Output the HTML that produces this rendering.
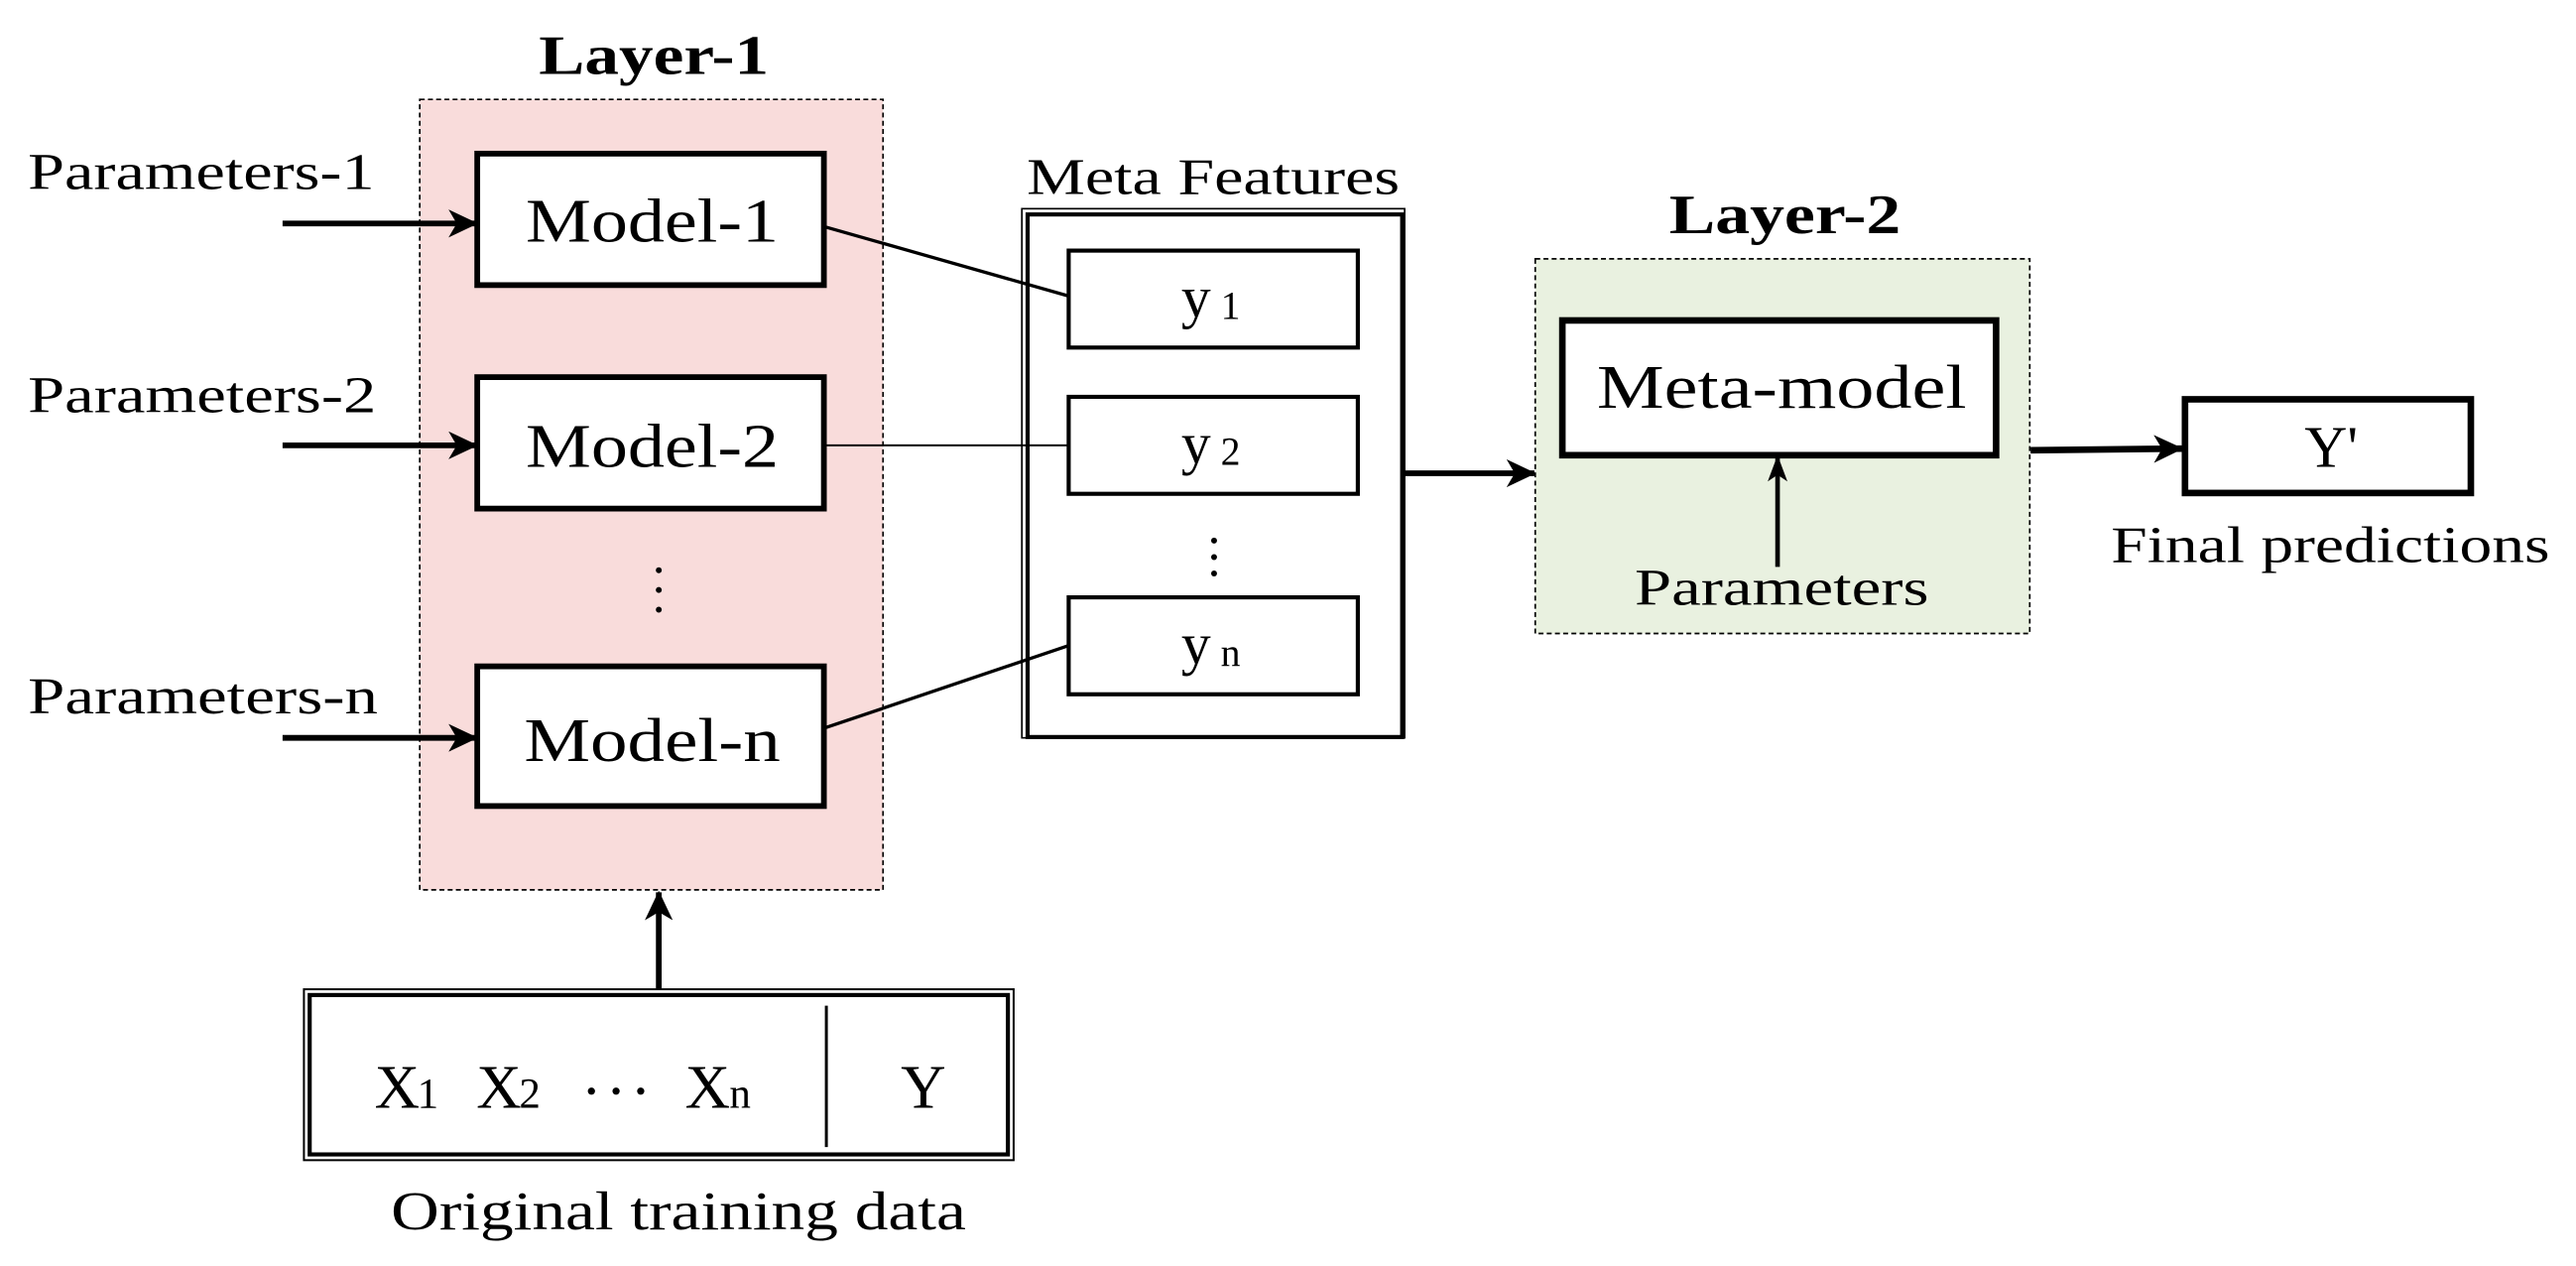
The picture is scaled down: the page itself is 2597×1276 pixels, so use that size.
<!DOCTYPE html>
<html><head><meta charset="utf-8"><style>
html,body{margin:0;padding:0;background:#fff;}
svg{display:block;}
text{font-family:"Liberation Serif",serif;fill:#000;}
</style></head><body>
<svg width="2597" height="1276" viewBox="0 0 1568 770.4" preserveAspectRatio="none" xmlns="http://www.w3.org/2000/svg">
<defs>
<marker id="ah" markerWidth="16" markerHeight="12" refX="15" refY="6" orient="auto" markerUnits="userSpaceOnUse">
<path d="M0,0 L16,6 L0,12 L4,6 Z" fill="#000"/>
</marker>
<marker id="ah2" markerWidth="18" markerHeight="17" refX="17" refY="8.5" orient="auto" markerUnits="userSpaceOnUse">
<path d="M0,0 L18,8.5 L0,17 L5,8.5 Z" fill="#000"/>
</marker>
</defs>
<!-- Layer 1 -->
<text x="328" y="45" font-size="34" font-weight="bold" textLength="140" lengthAdjust="spacingAndGlyphs">Layer-1</text>
<rect x="255.5" y="60.5" width="282" height="481" fill="#f9dcdb" stroke="#000" stroke-width="1" stroke-dasharray="3,2"/>
<rect x="290.5" y="93.5" width="211" height="80" fill="#fff" stroke="#000" stroke-width="3.5"/>
<rect x="290.5" y="229.5" width="211" height="80" fill="#fff" stroke="#000" stroke-width="3.5"/>
<rect x="290.5" y="405.5" width="211" height="85" fill="#fff" stroke="#000" stroke-width="3.5"/>
<text x="320" y="147" font-size="38" textLength="154" lengthAdjust="spacingAndGlyphs">Model-1</text>
<text x="320" y="284" font-size="38" textLength="154" lengthAdjust="spacingAndGlyphs">Model-2</text>
<text x="319" y="463" font-size="38" textLength="156" lengthAdjust="spacingAndGlyphs">Model-n</text>
<circle cx="401" cy="347" r="1.8"/><circle cx="401" cy="359" r="1.8"/><circle cx="401" cy="371" r="1.8"/>
<text x="17" y="115" font-size="31" textLength="211" lengthAdjust="spacingAndGlyphs">Parameters-1</text>
<text x="17" y="251" font-size="31" textLength="212" lengthAdjust="spacingAndGlyphs">Parameters-2</text>
<text x="17" y="434" font-size="31" textLength="213" lengthAdjust="spacingAndGlyphs">Parameters-n</text>
<line x1="172" y1="136" x2="290" y2="136" stroke="#000" stroke-width="3.5" marker-end="url(#ah2)"/>
<line x1="172" y1="271" x2="290" y2="271" stroke="#000" stroke-width="3.5" marker-end="url(#ah2)"/>
<line x1="172" y1="449" x2="290" y2="449" stroke="#000" stroke-width="3.5" marker-end="url(#ah2)"/>
<!-- Meta features -->
<text x="625" y="118" font-size="31" textLength="227" lengthAdjust="spacingAndGlyphs">Meta Features</text>
<rect x="622" y="127" width="233" height="322" fill="#fff" stroke="#000" stroke-width="1"/>
<rect x="625.5" y="130.5" width="228" height="318" fill="none" stroke="#000" stroke-width="2.5"/>
<rect x="650.5" y="152.5" width="176" height="59" fill="#fff" stroke="#000" stroke-width="2.5"/>
<rect x="650.5" y="241.5" width="176" height="59" fill="#fff" stroke="#000" stroke-width="2.5"/>
<rect x="650.5" y="363.5" width="176" height="59" fill="#fff" stroke="#000" stroke-width="2.5"/>
<text x="719" y="193" font-size="36">y</text><text x="743" y="194" font-size="24">1</text>
<text x="719" y="282" font-size="36">y</text><text x="743" y="283" font-size="24">2</text>
<text x="719" y="404" font-size="36">y</text><text x="743" y="405" font-size="24">n</text>
<circle cx="739" cy="329" r="1.8"/><circle cx="739" cy="339" r="1.8"/><circle cx="739" cy="349" r="1.8"/>
<line x1="502" y1="138" x2="650" y2="180" stroke="#000" stroke-width="2"/>
<line x1="502" y1="271" x2="650" y2="271" stroke="#000" stroke-width="1.2"/>
<line x1="502" y1="443" x2="650" y2="393" stroke="#000" stroke-width="2"/>
<line x1="855" y1="288" x2="934" y2="288" stroke="#000" stroke-width="3.5" marker-end="url(#ah2)"/>
<!-- Layer 2 -->
<text x="1016" y="142" font-size="34" font-weight="bold" textLength="141" lengthAdjust="spacingAndGlyphs">Layer-2</text>
<rect x="934.5" y="157.5" width="301" height="228" fill="#e9f1e0" stroke="#000" stroke-width="1" stroke-dasharray="3,2"/>
<rect x="951" y="195" width="264" height="82" fill="#fff" stroke="#000" stroke-width="4"/>
<text x="972" y="248" font-size="38" textLength="225" lengthAdjust="spacingAndGlyphs">Meta-model</text>
<line x1="1082" y1="345" x2="1082" y2="278" stroke="#000" stroke-width="2.8" marker-end="url(#ah)"/>
<text x="995" y="368" font-size="31" textLength="179" lengthAdjust="spacingAndGlyphs">Parameters</text>
<line x1="1236" y1="274" x2="1328" y2="273" stroke="#000" stroke-width="4" marker-end="url(#ah2)"/>
<rect x="1330" y="243" width="174" height="57" fill="#fff" stroke="#000" stroke-width="4"/>
<text x="1419" y="284" font-size="36" text-anchor="middle">Y'</text>
<text x="1285" y="342" font-size="31" textLength="267" lengthAdjust="spacingAndGlyphs">Final predictions</text>
<!-- training data -->
<line x1="401" y1="604" x2="401" y2="543" stroke="#000" stroke-width="3.5" marker-end="url(#ah2)"/>
<rect x="185" y="602" width="432" height="104" fill="#fff" stroke="#000" stroke-width="1.2"/>
<rect x="188.5" y="605.5" width="425" height="97" fill="none" stroke="#000" stroke-width="2.5"/>
<line x1="503" y1="612" x2="503" y2="698" stroke="#000" stroke-width="1.8"/>
<text x="228" y="674" font-size="38">X</text><text x="254" y="674" font-size="26">1</text>
<text x="290" y="674" font-size="38">X</text><text x="316" y="674" font-size="26">2</text>
<circle cx="360" cy="664" r="2.2"/><circle cx="375" cy="664" r="2.2"/><circle cx="390" cy="664" r="2.2"/>
<text x="417" y="674" font-size="38">X</text><text x="444" y="674" font-size="26">n</text>
<text x="562" y="674" font-size="38" text-anchor="middle">Y</text>
<text x="238" y="748" font-size="33" textLength="350" lengthAdjust="spacingAndGlyphs">Original training data</text>
</svg>
</body></html>
